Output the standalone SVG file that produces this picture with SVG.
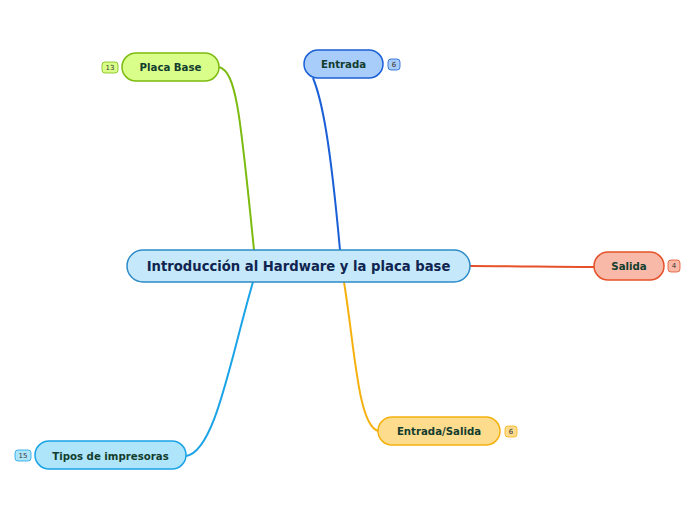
<svg xmlns="http://www.w3.org/2000/svg" width="696" height="520" viewBox="0 0 696 520">
<style>
.t{font-family:"DejaVu Sans",Verdana,sans-serif;font-weight:bold;text-anchor:middle;dominant-baseline:central}
.n{font-size:10.2px;fill:#133d2e}
.c{font-size:13.2px;fill:#102450}
.b{font-family:"DejaVu Sans",Verdana,sans-serif;font-size:7px;text-anchor:middle;dominant-baseline:central;fill:#333}
.e{fill:none;stroke-width:2}
</style>
<rect width="696" height="520" fill="#fff"/>
<g id="connectors">
<path class="e" stroke="#7cbb0f" d="M219,67 C236,72 240,110 254,250"/>
<path class="e" stroke="#1a5fd6" d="M313,78 C322,100 330,140 340,250"/>
<path class="e" stroke="#e6512a" d="M470,266 C520,266 550,267 594,267"/>
<path class="e" stroke="#f5b10f" d="M344,282 C355,350 358,425 378,431"/>
<path class="e" stroke="#1aa3e6" d="M253,282 C230,360 215,452 186,456"/>
</g>
<g id="central">
<rect x="127" y="250" width="343" height="32" rx="16" fill="#c5e9fb" stroke="#2d8ac8" stroke-width="1.5"/>
<text class="t c" x="298.5" y="266">Introducción al Hardware y la placa base</text>
</g>
<g id="placa-base">
<rect x="122" y="53" width="97" height="28" rx="14" fill="#d9ff8a" stroke="#7cbb0f" stroke-width="1.5"/>
<text class="t n" x="170.5" y="67.5">Placa Base</text>
<rect x="102" y="62" width="16" height="11" rx="3" fill="#d9ff8a" stroke="#7cbb0f" stroke-width="0.8"/>
<text class="b" x="110" y="67.5">13</text>
</g>
<g id="entrada">
<rect x="304" y="50" width="79" height="28" rx="14" fill="#a8cdfb" stroke="#1a5fd6" stroke-width="1.5"/>
<text class="t n" x="343.5" y="64.5">Entrada</text>
<rect x="388" y="59" width="12" height="11" rx="3" fill="#a8cdfb" stroke="#1a5fd6" stroke-width="0.8"/>
<text class="b" x="394" y="64.5">6</text>
</g>
<g id="salida">
<rect x="594" y="252" width="70" height="28" rx="14" fill="#f9b9a8" stroke="#e6512a" stroke-width="1.5"/>
<text class="t n" x="629" y="266.5">Salida</text>
<rect x="668" y="260" width="12" height="12" rx="3" fill="#f9b9a8" stroke="#e6512a" stroke-width="0.8"/>
<text class="b" x="674" y="266">4</text>
</g>
<g id="entrada-salida">
<rect x="378" y="417" width="122" height="28" rx="14" fill="#fddc8e" stroke="#f5b10f" stroke-width="1.5"/>
<text class="t n" x="439" y="431.5">Entrada/Salida</text>
<rect x="505" y="426" width="12" height="11" rx="3" fill="#fddc8e" stroke="#f5b10f" stroke-width="0.8"/>
<text class="b" x="511" y="431.5">6</text>
</g>
<g id="tipos-impresoras">
<rect x="35" y="441" width="151" height="28" rx="14" fill="#aee5fb" stroke="#1aa3e6" stroke-width="1.5"/>
<text class="t n" x="110.5" y="456">Tipos de impresoras</text>
<rect x="15" y="450" width="16" height="11" rx="3" fill="#aee5fb" stroke="#1aa3e6" stroke-width="0.8"/>
<text class="b" x="23" y="455.5">15</text>
</g>
</svg>
